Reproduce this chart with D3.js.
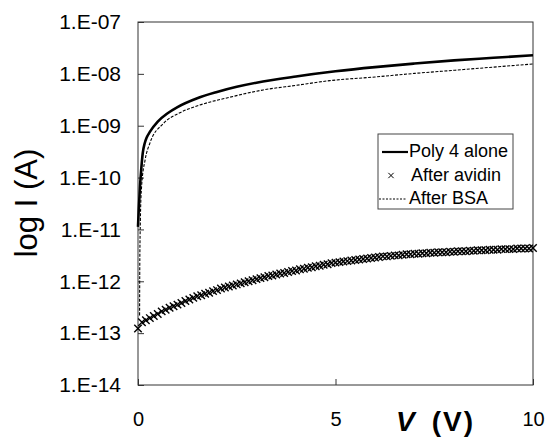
<!DOCTYPE html>
<html>
<head>
<meta charset="utf-8">
<script src="https://cdn.jsdelivr.net/npm/d3@7"></script>
<style>
  body { margin: 0; background: #fff; }
  text { font-family: "Liberation Sans", Arial, sans-serif; fill: #000; }
</style>
</head>
<body>
<script>
"use strict";
// Poly 4 alone (solid line)
let polyV = [0, 0.02, 0.05, 0.08, 0.12, 0.17, 0.22, 0.3, 0.5, 0.75, 1.0, 1.5, 2.0, 2.5, 3.0, 4.0, 5.0, 6.0, 7.0, 8.0, 9.0, 10];
let polyI = [1.12e-11, 2.5e-11, 6.6e-11, 1.38e-10, 2.95e-10, 4.6e-10, 5.9e-10, 7.6e-10, 1.2e-9, 1.74e-9, 2.29e-9, 3.39e-9,
             4.47e-9, 5.62e-9, 6.76e-9, 8.91e-9, 1.12e-8, 1.35e-8, 1.58e-8, 1.82e-8, 2.04e-8, 2.29e-8];
// After BSA (dotted line)
let bsaV = [0.04, 0.045, 0.06, 0.09, 0.18, 0.3, 0.64, 1.06, 1.49, 2.33, 3.17, 4.0, 4.86, 6.0, 7.0, 8.0, 9.0, 10];
let bsaI = [2.2e-13, 2.0e-12, 1.5e-11, 6.6e-11, 2.2e-10, 4.6e-10, 1.1e-9, 1.78e-9, 2.4e-9, 3.55e-9, 4.9e-9,
            6.0e-9, 7.4e-9, 8.7e-9, 1.02e-8, 1.17e-8, 1.35e-8, 1.55e-8];
// After avidin (x markers)
let avidinV = [0, 0.1, 0.2, 0.3, 0.4, 0.5, 0.6, 0.7, 0.8, 0.9,
               1.0, 1.1, 1.2, 1.3, 1.4, 1.5, 1.6, 1.7, 1.8, 1.9,
               2.0, 2.1, 2.2, 2.3, 2.4, 2.5, 2.6, 2.7, 2.8, 2.9,
               3.0, 3.1, 3.2, 3.3, 3.4, 3.5, 3.6, 3.7, 3.8, 3.9,
               4.0, 4.1, 4.2, 4.3, 4.4, 4.5, 4.6, 4.7, 4.8, 4.9,
               5.0, 5.1, 5.2, 5.3, 5.4, 5.5, 5.6, 5.7, 5.8, 5.9,
               6.0, 6.1, 6.2, 6.3, 6.4, 6.5, 6.6, 6.7, 6.8, 6.9,
               7.0, 7.1, 7.2, 7.3, 7.4, 7.5, 7.6, 7.7, 7.8, 7.9,
               8.0, 8.1, 8.2, 8.3, 8.4, 8.5, 8.6, 8.7, 8.8, 8.9,
               9.0, 9.1, 9.2, 9.3, 9.4, 9.5, 9.6, 9.7, 9.8, 9.9,
               10.0];
let avidinI = [1.23e-13, 1.62e-13, 1.78e-13, 1.95e-13, 2.14e-13, 2.34e-13, 2.63e-13, 2.82e-13, 3.09e-13, 3.31e-13,
               3.55e-13, 3.80e-13, 4.17e-13, 4.47e-13, 4.79e-13, 5.13e-13, 5.37e-13, 5.75e-13, 6.03e-13, 6.46e-13,
               6.76e-13, 7.24e-13, 7.59e-13, 7.94e-13, 8.32e-13, 8.71e-13, 9.12e-13, 9.55e-13, 1.00e-12, 1.05e-12,
               1.10e-12, 1.15e-12, 1.20e-12, 1.26e-12, 1.29e-12, 1.35e-12, 1.41e-12, 1.45e-12, 1.51e-12, 1.58e-12,
               1.62e-12, 1.70e-12, 1.74e-12, 1.82e-12, 1.86e-12, 1.95e-12, 2.00e-12, 2.09e-12, 2.14e-12, 2.24e-12,
               2.29e-12, 2.34e-12, 2.40e-12, 2.45e-12, 2.51e-12, 2.57e-12, 2.63e-12, 2.69e-12, 2.75e-12, 2.82e-12,
               2.88e-12, 2.95e-12, 3.02e-12, 3.02e-12, 3.09e-12, 3.16e-12, 3.16e-12, 3.24e-12, 3.31e-12, 3.31e-12,
               3.39e-12, 3.39e-12, 3.47e-12, 3.47e-12, 3.55e-12, 3.55e-12, 3.63e-12, 3.63e-12, 3.63e-12, 3.72e-12,
               3.72e-12, 3.80e-12, 3.80e-12, 3.80e-12, 3.89e-12, 3.89e-12, 3.98e-12, 3.98e-12, 3.98e-12, 4.07e-12,
               4.07e-12, 4.07e-12, 4.17e-12, 4.17e-12, 4.17e-12, 4.17e-12, 4.27e-12, 4.27e-12, 4.27e-12, 4.27e-12,
               4.37e-12];
let yTicks = [1e-14, 1e-13, 1e-12, 1e-11, 1e-10, 1e-9, 1e-8, 1e-7];
let yTickLabels = ["1.E-14", "1.E-13", "1.E-12", "1.E-11", "1.E-10", "1.E-09", "1.E-08", "1.E-07"];
let xTicks = [0, 5, 10];
let legendLabels = ["Poly 4 alone", "After avidin", "After BSA"];

let svgContainer = d3.select("body")
                     .append("svg")
                     .attr("width", 548)
                     .attr("height", 439)

let x = d3.scaleLinear().domain([0, 10]).range([138, 533])
let y = d3.scaleLog().domain([1e-14, 1e-7]).range([385, 22])

// frame
svgContainer.append("rect")
    .attr("x", x(0)).attr("y", y(1e-7))
    .attr("width", x(10) - x(0)).attr("height", y(1e-14) - y(1e-7))
    .attr("fill", "none").attr("stroke", "#333").attr("stroke-width", 1)

let yAxis = svgContainer.append("g")
    .attr("transform", `translate(${x(0)},0)`)
    .call(d3.axisLeft(y).tickValues(yTicks).tickSize(-6).tickPadding(17)
            .tickFormat((d, i) => yTickLabels[i]))
yAxis.select(".domain").remove()
yAxis.selectAll("line").attr("stroke", "#333")
yAxis.selectAll("text").attr("font-size", 21).attr("font-family", "Liberation Sans, Arial, sans-serif").attr("fill", "#000")

let xAxis = svgContainer.append("g")
    .attr("transform", `translate(0,${y(1e-14)})`)
    .call(d3.axisBottom(x).tickValues(xTicks).tickSize(-6).tickPadding(27).tickFormat(d3.format("d")))
xAxis.select(".domain").remove()
xAxis.selectAll("line").attr("stroke", "#333")
xAxis.selectAll("text").attr("font-size", 20).attr("font-family", "Liberation Sans, Arial, sans-serif").attr("fill", "#000")

// axis titles
svgContainer.append("text")
    .attr("transform", "translate(37,203) rotate(-90)")
    .attr("text-anchor", "middle")
    .attr("font-size", 31)
    .text("log I (A)")
let xt = svgContainer.append("text")
    .attr("x", 396).attr("y", 431)
    .attr("font-size", 28).attr("font-weight", "bold")
xt.append("tspan").attr("font-style", "italic").text("V")
xt.append("tspan").attr("dx", 17).attr("letter-spacing", 2).text("(V)")

let line = d3.line()
    .x((d) => x(d[0]))
    .y((d) => y(d[1]))
    .curve(d3.curveMonotoneX)

svgContainer.append("path")
    .datum(bsaV.map((v, i) => [v, bsaI[i]]))
    .attr("d", line)
    .attr("fill", "none").attr("stroke", "#000")
    .attr("stroke-width", 1.1).attr("stroke-dasharray", "3,1.5")

svgContainer.append("path")
    .datum(polyV.map((v, i) => [v, polyI[i]]))
    .attr("d", line)
    .attr("fill", "none").attr("stroke", "#000").attr("stroke-width", 2.6)

let cross = d3.symbol().type(d3.symbolTimes).size(38)
svgContainer.append("g")
    .selectAll("path")
    .data(avidinV.map((v, i) => [v, avidinI[i]]))
    .enter()
    .append("path")
    .attr("d", cross)
    .attr("transform", (d) => `translate(${x(d[0])},${y(d[1])})`)
    .attr("fill", "none").attr("stroke", "#000").attr("stroke-width", 1.4)

// legend
let legend = svgContainer.append("g")
legend.append("rect")
    .attr("x", 378).attr("y", 134).attr("width", 135).attr("height", 75)
    .attr("fill", "#fff").attr("stroke", "#444").attr("stroke-width", 1)
let rows = legend.selectAll("g.row")
    .data(legendLabels)
    .enter()
    .append("g")
    .attr("class", "row")
    .attr("transform", (d, i) => `translate(0,${157 + i * 23.5})`)
rows.append("text")
    .attr("x", (d, i) => i === 1 ? 411 : 409)
    .attr("font-size", 18)
    .text((d) => d)
rows.filter((d, i) => i === 0).append("line")
    .attr("x1", 382).attr("x2", 408).attr("y1", -5).attr("y2", -5)
    .attr("stroke", "#000").attr("stroke-width", 2.2)
rows.filter((d, i) => i === 1).append("path")
    .attr("d", d3.symbol().type(d3.symbolTimes).size(20))
    .attr("transform", "translate(391,-5)")
    .attr("fill", "none").attr("stroke", "#000").attr("stroke-width", 1)
rows.filter((d, i) => i === 2).append("line")
    .attr("x1", 379).attr("x2", 407).attr("y1", -5).attr("y2", -5)
    .attr("stroke", "#000").attr("stroke-width", 1).attr("stroke-dasharray", "2,1.5")
</script>
</body>
</html>
